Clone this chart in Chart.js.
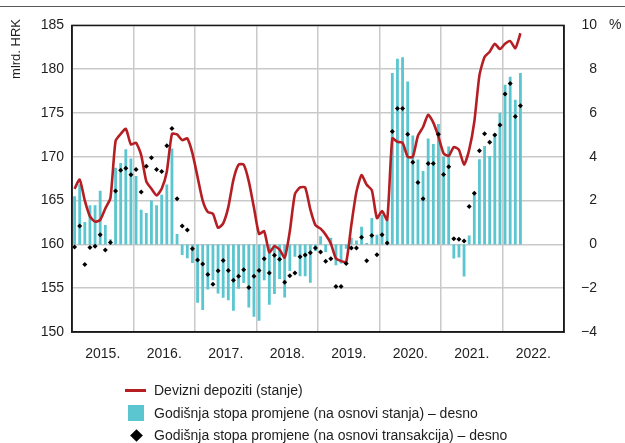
<!DOCTYPE html>
<html>
<head>
<meta charset="utf-8">
<script src="https://cdn.jsdelivr.net/npm/chart.js@4.4.1/dist/chart.umd.min.js"></script>
<style>
  html, body { margin: 0; padding: 0; background: #fff; }
  #wrap {
    position: relative; width: 625px; height: 443px;
    font-family: 'Liberation Sans Narrow', 'Liberation Sans', sans-serif;
    color: #1e1e1e;
  }
  #chart { position: absolute; left: 0; top: 0; }
  .legend { position: absolute; left: 125px; top: 379px; font-size: 14px; }
  .legend .row { position: relative; height: 22.5px; line-height: 22px; padding-left: 29px; white-space: nowrap; }
  .sw-line { position: absolute; left: 0; top: 10px; width: 21px; height: 3px; background: #b51f24; }
  .sw-bar  { position: absolute; left: 3px; top: 3px; width: 16px; height: 16px; background: #5bc6d0; }
  .sw-dot  { position: absolute; left: 7px; top: 7px; width: 9px; height: 9px; background: #000; transform: rotate(45deg); }
</style>
</head>
<body>
<div id="wrap">
  <canvas id="chart" width="625" height="443"></canvas>
  <div class="legend">
    <div class="row"><span class="sw-line"></span>Devizni depoziti (stanje)</div>
    <div class="row"><span class="sw-bar"></span>Godišnja stopa promjene (na osnovi stanja) – desno</div>
    <div class="row"><span class="sw-dot"></span>Godišnja stopa promjene (na osnovi transakcija) – desno</div>
  </div>
</div>
<script>
// ── Data: monthly, Jan 2015 – Apr 2022 ───────────────
const years = ['2015.', '2016.', '2017.', '2018.', '2019.', '2020.', '2021.', '2022.'];

// Devizni depoziti, stanje (mlrd. HRK) — left axis
const depoziti = [
  166.35, 167.4, 165.0, 163.2, 162.6, 162.8, 164.1, 165.3, 171.8, 172.6, 173.2, 171.4,
  171.6, 170.2, 167.2, 166.35, 165.6, 166.35, 168.3, 172.6, 172.55, 171.9, 172.1, 170.4,
  167.7, 165.0, 163.7, 163.5, 161.9, 162.4, 164.25, 167.4, 169.1, 169.1, 167.2, 164.2,
  161.2, 161.5, 159.1, 159.8, 159.4, 158.5, 161.5, 165.75, 166.5, 166.5, 164.0, 162.2,
  161.8, 161.1, 160.1, 158.4, 158.1, 158.0, 162.2, 166.0, 167.9, 166.8, 166.2, 163.0,
  163.8, 162.8, 172.1, 171.7, 171.6, 170.0, 170.0, 172.4, 173.4, 174.8, 173.9, 172.3,
  170.4, 170.1, 171.1, 170.8, 169.1, 170.8, 174.0, 179.3, 181.4, 182.0, 182.9, 182.3,
  182.9, 183.2, 182.4, 184.1
];

// Godišnja stopa promjene na osnovi stanja (%) — right axis
const stopaStanje = [
  2.2, 2.75, 1.02, 1.79, 1.79, 2.45, 0.89, 0.23, 3.5, 3.72, 4.35, 3.92,
  3.12, 1.58, 1.43, 2.0, 1.79, 2.27, 2.73, 4.38, 0.47, -0.48, -0.63, -0.85,
  -2.67, -3.0, -2.06, -1.64, -2.24, -2.44, -2.55, -3.03, -2.02, -1.76, -2.88, -3.3,
  -3.49, -1.64, -2.76, -2.27, -1.58, -2.42, -1.22, -0.56, -1.46, -1.45, -1.75, -0.3,
  0.37, -0.35, 0.3, -0.95, -0.87, -0.2, 0.3, 0.18, 0.81, 0.06, 1.2, 0.44,
  1.35, 1.1, 7.83, 8.48, 8.55, 7.44, 4.97, 3.88, 3.35, 4.84, 4.58, 5.5,
  4.0, 4.47, -0.64, -0.6, -1.47, 0.41, 2.33, 3.89, 4.49, 4.04, 5.05, 6.0,
  7.29, 7.65, 6.6, 7.83
];

// Godišnja stopa promjene na osnovi transakcija (%) — right axis
const stopaTransakcije = [
  -0.12, 0.84, -0.92, -0.14, -0.08, 0.44, -0.26, 0.09, 2.44, 3.39, 3.48, 3.18,
  3.42, 2.39, 3.57, 3.96, 3.42, 3.33, 4.5, 5.29, 2.08, 0.84, 0.66, -0.2,
  -0.71, -0.89, -1.37, -1.82, -1.2, -0.74, -1.19, -1.64, -1.46, -1.16, -1.97, -1.46,
  -1.19, -0.66, -1.31, -0.5, -0.68, -1.73, -1.43, -1.31, -0.56, -0.48, -0.38, -0.17,
  -0.35, -0.77, -0.65, -1.92, -1.92, -0.87, -0.17, -0.17, 0.33, -0.75, 0.41, -0.47,
  0.44, 0.06, 5.15, 6.2, 6.2, 5.03, 3.75, 2.83, 2.08, 3.69, 3.69, 5.03,
  3.19, 3.54, 0.26, 0.23, 0.15, 1.73, 2.33, 4.28, 5.05, 4.67, 5.0, 5.45,
  6.87, 7.35, 5.84, 6.33
];

// one category per month, all eight years
const months = [];
years.forEach(y => { for (let m = 1; m <= 12; m++) months.push(y + m); });

const FONT = "'Liberation Sans Narrow', 'Liberation Sans', sans-serif";
const TEXT = '#1e1e1e';
const GRID = '#c9c9c9';

// ── Frame, top rule and the free-standing axis captions ──
const decor = {
  id: 'decor',
  afterDraw(chart) {
    const { ctx, chartArea: a } = chart;
    ctx.save();
    ctx.strokeStyle = '#1a1a1a';
    ctx.lineWidth = 1.5;
    ctx.strokeRect(a.left, a.top, a.right - a.left, a.bottom - a.top);

    ctx.strokeStyle = '#5a5a5a';
    ctx.lineWidth = 1.2;
    ctx.beginPath();
    ctx.moveTo(0, 6.5);
    ctx.lineTo(chart.width, 6.5);
    ctx.stroke();

    ctx.fillStyle = TEXT;
    ctx.font = '14px ' + FONT;
    ctx.textBaseline = 'middle';
    ctx.textAlign = 'left';
    ctx.fillText('%', 609, chart.scales.y1.getPixelForValue(10));

    ctx.translate(16, 19);
    ctx.rotate(-Math.PI / 2);
    ctx.textAlign = 'right';
    ctx.font = '13px ' + FONT;
    ctx.fillText('mlrd. HRK', 0, 0);
    ctx.restore();
  }
};

new Chart(document.getElementById('chart'), {
  type: 'bar',
  data: {
    labels: months,
    datasets: [
      {
        type: 'line',
        label: 'Devizni depoziti (stanje)',
        data: depoziti,
        yAxisID: 'y',
        borderColor: '#b51f24',
        borderWidth: 2.6,
        pointRadius: 0,
        tension: 0.2,
        order: 1,
      },
      {
        type: 'line',
        label: 'Godišnja stopa promjene (na osnovi transakcija) – desno',
        data: stopaTransakcije,
        yAxisID: 'y1',
        showLine: false,
        pointStyle: 'rectRot',
        pointRadius: 2.5,
        pointBackgroundColor: '#000',
        pointBorderWidth: 0,
        order: 0,
      },
      {
        label: 'Godišnja stopa promjene (na osnovi stanja) – desno',
        data: stopaStanje,
        yAxisID: 'y1',
        backgroundColor: '#5bc6d0',
        barPercentage: 0.55,
        categoryPercentage: 1.0,
        order: 2,
      },
    ],
  },
  options: {
    responsive: false,
    animation: false,
    layout: { padding: { top: 22, left: 0, right: 28, bottom: 0 } },
    plugins: { legend: { display: false }, tooltip: { enabled: false } },
    scales: {
      x: {
        offset: true,
        grid: {
          offset: true,
          drawTicks: false,
          lineWidth: 1.5,
          color: ctx => (ctx.index % 12 === 0 ? GRID : 'rgba(0,0,0,0)'),
        },
        border: { color: '#1a1a1a', width: 1.5 },
        ticks: {
          autoSkip: false,
          maxRotation: 0,
          padding: 14,
          labelOffset: -2.56,
          color: TEXT,
          font: { family: FONT, size: 14 },
          callback: (v, i) => (i % 12 === 6 ? years[Math.floor(i / 12)] : ''),
        },
        afterFit: s => { s.height = 111; },
      },
      y: {
        position: 'left',
        min: 150,
        max: 185,
        grid: { color: GRID, lineWidth: 1.5, drawTicks: false },
        border: { color: '#1a1a1a', width: 1.5 },
        ticks: { stepSize: 5, padding: 8, color: TEXT, font: { family: FONT, size: 14 } },
        afterFit: s => { s.width = 72; },
      },
      y1: {
        position: 'right',
        min: -4,
        max: 10,
        grid: { display: false, drawTicks: false, tickLength: 0 },
        border: { color: '#1a1a1a', width: 1.5 },
        ticks: {
          stepSize: 2,
          padding: 17,
          crossAlign: 'far',
          color: TEXT,
          font: { family: FONT, size: 14 },
          callback: v => (v < 0 ? '\u2212' + Math.abs(v) : String(v)),
        },
        afterFit: s => { s.width = 33; },
      },
    },
  },
  plugins: [decor],
});
</script>
</body>
</html>
